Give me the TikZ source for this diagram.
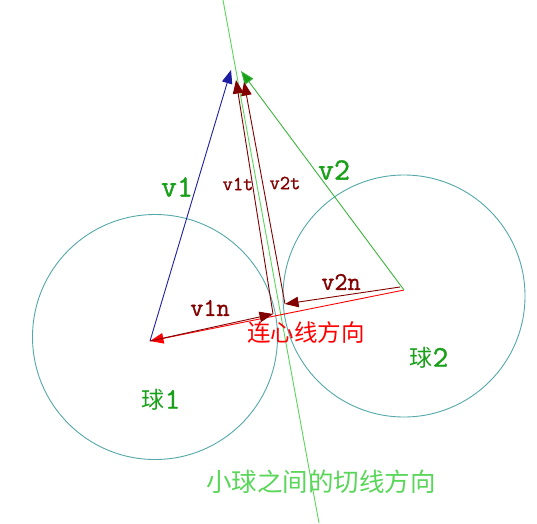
\documentclass[tikz,border=0pt]{standalone}
\usepackage{fontspec}
\newfontfamily\cjk{Noto Sans CJK SC}
\newfontfamily\vfont[Extension=.otf,FakeBold=1.2]{lmmono12-regular}
\usetikzlibrary{arrows.meta}
\definecolor{ballc}{RGB}{85,168,168}
\definecolor{vblue}{RGB}{30,30,160}
\definecolor{dred}{RGB}{130,0,0}
\definecolor{lgreen}{RGB}{90,215,90}
\definecolor{mgreen}{RGB}{60,180,60}
\definecolor{tgreen}{RGB}{25,160,25}
\begin{document}
\begin{tikzpicture}[x=1pt,y=-1pt,
  vec/.style={line width=0.9pt,-{Triangle[length=13.5pt,width=10.5pt]}},
  ball/.style={draw=ballc,line width=0.9pt},
  lab/.style={inner sep=0pt},
  cjklab/.style={inner sep=0pt}]
\useasboundingbox (0,0) rectangle (537,523);
\fill[white] (0,0) rectangle (537,523);
% balls
\coordinate (b1) at (155,337);
\coordinate (b2) at (404,296);
\draw[ball] (b1) circle[radius=122.5];
\draw[ball] (b2) circle[radius=121];
% key points
\coordinate (o1) at (150,341);
\coordinate (o2) at (404,290);
\coordinate (o2n) at (400,287);
\coordinate (tip1) at (231,70);
\coordinate (tip2) at (241,71);
\coordinate (n1) at (273,314);
\coordinate (n2) at (285,304);
\coordinate (t1) at (236,80);
\coordinate (t2) at (244,82);
\coordinate (tg1) at (223,0);
\coordinate (tg2) at (319,523);
% tangent line
\draw[lgreen,line width=0.9pt] (tg1) -- (tg2);
% center line
\draw[vec,red] (o2) -- (o1);
% velocities
\draw[vec,vblue] (o1) -- (tip1);
\draw[vec,mgreen,-{Triangle[length=13.5pt,width=10.5pt,fill=tgreen]}] (o2) -- (tip2);
% components
\draw[vec,dred] (o1) -- (n1);
\draw[vec,dred] (o2n) -- (n2);
\draw[vec,dred] (n1) -- (t1);
\draw[vec,dred] (n2) -- (t2);
% labels
\node[lab,text=tgreen,font=\vfont\fontsize{31}{31}\selectfont] (lv1) at (177,187) {v1};
\node[lab,text=tgreen,font=\vfont\fontsize{31}{31}\selectfont] (lv2) at (334,170) {v2};
\node[lab,text=dred,font=\vfont\fontsize{20}{20}\selectfont] (lv1t) at (238,184) {v1t};
\node[lab,text=dred,font=\vfont\fontsize{20}{20}\selectfont] (lv2t) at (285,183) {v2t};
\node[lab,text=dred,font=\vfont\fontsize{25.5}{25.5}\selectfont] (lv1n) at (210,308) {v1n};
\node[lab,text=dred,font=\vfont\fontsize{25.5}{25.5}\selectfont] (lv2n) at (341,282) {v2n};
\node[cjklab,text=red,font=\cjk\fontsize{23.5}{23.5}\selectfont] (lc) at (306,333) {连心线方向};
\node[cjklab,text=tgreen,font=\cjk\fontsize{23}{23}\selectfont] (lb1) at (161,400) {球{\vfont\fontsize{30}{30}\selectfont 1}};
\node[cjklab,text=tgreen,font=\cjk\fontsize{23}{23}\selectfont] (lb2) at (429,358) {球{\vfont\fontsize{30}{30}\selectfont 2}};
\node[cjklab,text=lgreen,font=\cjk\fontsize{25.5}{25.5}\selectfont] (lt) at (321,482) {小球之间的切线方向};
\end{tikzpicture}
\end{document}
